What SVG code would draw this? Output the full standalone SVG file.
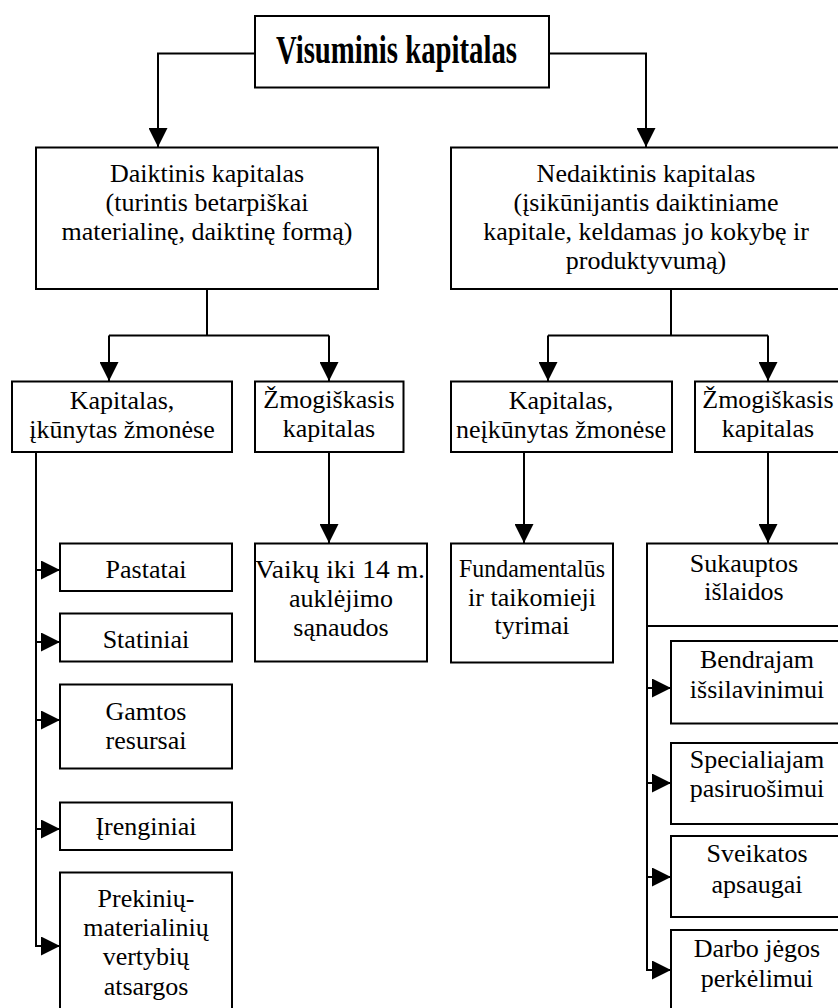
<svg xmlns="http://www.w3.org/2000/svg" width="838" height="1008" viewBox="0 0 838 1008">
<style>
  .box{fill:#fff;stroke:#000;stroke-width:2}
  .t{font-family:"Liberation Serif","Times New Roman",serif;font-size:26px;fill:#000;text-anchor:middle}
  .title{font-family:"Liberation Serif","Times New Roman",serif;font-size:41px;font-weight:bold;fill:#000}
  .c{fill:none;stroke:#000;stroke-width:2}
</style>
<defs>
  <marker id="arr" markerUnits="userSpaceOnUse" viewBox="0 0 19 19" markerWidth="19" markerHeight="19" refX="19" refY="9.5" orient="auto">
    <path d="M0,0 L19,9.5 L0,19 z" fill="#000"/>
  </marker>
</defs>
<rect x="0" y="0" width="838" height="1008" fill="#fff"/>

<g id="connectors">
  <path class="c" d="M255,53.5 H158 V147" marker-end="url(#arr)"/>
  <path class="c" d="M549,53.5 H646 V147" marker-end="url(#arr)"/>
  <path class="c" d="M207,289 V335.5"/>
  <path class="c" d="M109,335.5 H329"/>
  <path class="c" d="M109,335.5 V381" marker-end="url(#arr)"/>
  <path class="c" d="M329,335.5 V381" marker-end="url(#arr)"/>
  <path class="c" d="M671,289 V335.5"/>
  <path class="c" d="M548,335.5 H768"/>
  <path class="c" d="M548,335.5 V381" marker-end="url(#arr)"/>
  <path class="c" d="M768,335.5 V381" marker-end="url(#arr)"/>
  <path class="c" d="M329,452 V543" marker-end="url(#arr)"/>
  <path class="c" d="M524,452 V543" marker-end="url(#arr)"/>
  <path class="c" d="M768,452 V543" marker-end="url(#arr)"/>
  <path class="c" d="M36,452 V946 H60" marker-end="url(#arr)"/>
  <path class="c" d="M36,570 H60" marker-end="url(#arr)"/>
  <path class="c" d="M36,642 H60" marker-end="url(#arr)"/>
  <path class="c" d="M36,720 H60" marker-end="url(#arr)"/>
  <path class="c" d="M36,829 H60" marker-end="url(#arr)"/>
  <path class="c" d="M647,626 V970 H671" marker-end="url(#arr)"/>
  <path class="c" d="M647,688 H671" marker-end="url(#arr)"/>
  <path class="c" d="M647,783 H671" marker-end="url(#arr)"/>
  <path class="c" d="M647,877 H671" marker-end="url(#arr)"/>
</g>

<g id="visuminis">
  <rect class="box" x="255" y="16" width="294" height="71.5"/>
  <text class="title" x="276" y="63" textLength="241" lengthAdjust="spacingAndGlyphs">Visuminis kapitalas</text>
</g>

<g id="daiktinis">
  <rect class="box" x="36" y="147.5" width="342" height="141.5"/>
  <text class="t" x="207" y="182">Daiktinis kapitalas</text>
  <text class="t" x="207" y="211">(turintis betarpiškai</text>
  <text class="t" x="207" y="240">materialinę, daiktinę formą)</text>
</g>

<g id="nedaiktinis">
  <rect class="box" x="451" y="147.5" width="392" height="141.5"/>
  <text class="t" x="646" y="182">Nedaiktinis kapitalas</text>
  <text class="t" x="646" y="211">(įsikūnijantis daiktiniame</text>
  <text class="t" x="646" y="240">kapitale, keldamas jo kokybę ir</text>
  <text class="t" x="646" y="269">produktyvumą)</text>
</g>

<g id="kapitalas-ikunytas">
  <rect class="box" x="12" y="381.5" width="220" height="70.5"/>
  <text class="t" x="122" y="409">Kapitalas,</text>
  <text class="t" x="122" y="438">įkūnytas žmonėse</text>
</g>

<g id="zmogiskasis-1">
  <rect class="box" x="255" y="381.5" width="148.5" height="70.5"/>
  <text class="t" x="329" y="408">Žmogiškasis</text>
  <text class="t" x="329" y="437">kapitalas</text>
</g>

<g id="kapitalas-neikunytas">
  <rect class="box" x="451" y="381.5" width="221" height="70.5"/>
  <text class="t" x="561" y="409">Kapitalas,</text>
  <text class="t" x="561" y="438">neįkūnytas žmonėse</text>
</g>

<g id="zmogiskasis-2">
  <rect class="box" x="695" y="381.5" width="148" height="70.5"/>
  <text class="t" x="768" y="408">Žmogiškasis</text>
  <text class="t" x="768" y="437">kapitalas</text>
</g>

<g id="pastatai">
  <rect class="box" x="60" y="543.5" width="172" height="47.5"/>
  <text class="t" x="146" y="578">Pastatai</text>
</g>

<g id="statiniai">
  <rect class="box" x="60" y="613.5" width="172" height="48"/>
  <text class="t" x="146" y="648">Statiniai</text>
</g>

<g id="gamtos">
  <rect class="box" x="60" y="684.5" width="172" height="84"/>
  <text class="t" x="146" y="720">Gamtos</text>
  <text class="t" x="146" y="749">resursai</text>
</g>

<g id="irenginiai">
  <rect class="box" x="60" y="802.5" width="172" height="47.5"/>
  <text class="t" x="146" y="835">Įrenginiai</text>
</g>

<g id="prekiniu">
  <rect class="box" x="60" y="872.5" width="172" height="145"/>
  <text class="t" x="146" y="907">Prekinių-</text>
  <text class="t" x="146" y="936">materialinių</text>
  <text class="t" x="146" y="965">vertybių</text>
  <text class="t" x="146" y="995">atsargos</text>
</g>

<g id="vaiku">
  <rect class="box" x="255" y="543.5" width="172" height="118"/>
  <text class="t" x="340" y="578" textLength="170" lengthAdjust="spacingAndGlyphs">Vaikų iki 14 m.</text>
  <text class="t" x="341" y="607">auklėjimo</text>
  <text class="t" x="341" y="636">sąnaudos</text>
</g>

<g id="fundamentalus">
  <rect class="box" x="451" y="543.5" width="162" height="119"/>
  <text class="t" x="532" y="577" textLength="146" lengthAdjust="spacingAndGlyphs">Fundamentalūs</text>
  <text class="t" x="532" y="606">ir taikomieji</text>
  <text class="t" x="532" y="634">tyrimai</text>
</g>

<g id="sukauptos">
  <rect class="box" x="647" y="543.5" width="196" height="82.5"/>
  <text class="t" x="744" y="572">Sukauptos</text>
  <text class="t" x="744" y="600">išlaidos</text>
</g>

<g id="bendrajam">
  <rect class="box" x="671" y="641" width="172" height="82.5"/>
  <text class="t" x="757" y="668">Bendrajam</text>
  <text class="t" x="757" y="698">išsilavinimui</text>
</g>

<g id="specialiajam">
  <rect class="box" x="671" y="743" width="172" height="81"/>
  <text class="t" x="757" y="768">Specialiajam</text>
  <text class="t" x="757" y="797">pasiruošimui</text>
</g>

<g id="sveikatos">
  <rect class="box" x="671" y="836" width="172" height="81"/>
  <text class="t" x="757" y="862">Sveikatos</text>
  <text class="t" x="757" y="893">apsaugai</text>
</g>

<g id="darbo">
  <rect class="box" x="671" y="930" width="172" height="90"/>
  <text class="t" x="757" y="957">Darbo jėgos</text>
  <text class="t" x="757" y="987">perkėlimui</text>
</g>
</svg>
